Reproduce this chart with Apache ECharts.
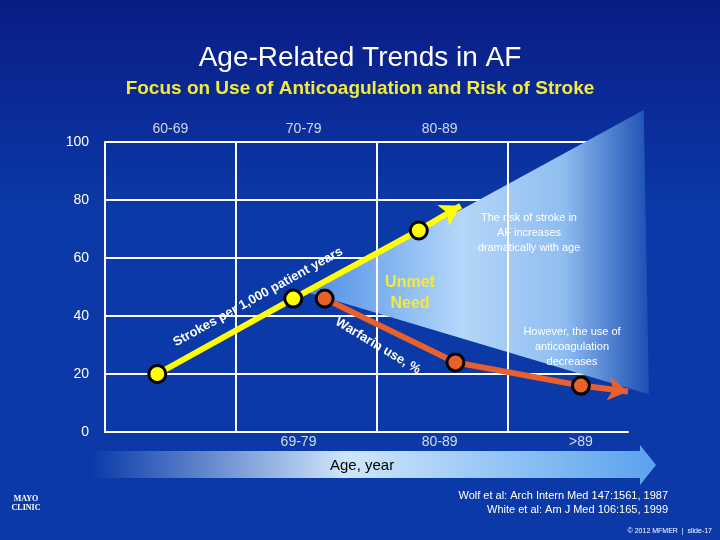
<!DOCTYPE html>
<html><head><meta charset="utf-8">
<script src="https://cdn.jsdelivr.net/npm/echarts@6/dist/echarts.min.js"></script>
<style>html,body{margin:0;padding:0;background:#0b2f9a}#c{width:720px;height:540px}</style>
</head><body><div id="c"></div>
<script>
// x is a 0..100 position along the age band, y is the chart value
const strokeX = [10, 36, 60];
const strokeY = [20, 46, 69.5];
const strokeTip = [68, 78];
const warfX = [42, 67, 91];
const warfY = [46, 24, 16];
const warfTip = [100, 14];
const wedge = [[39, 48], [103, 111], [104, 13]];
const vLines = [25, 52, 77];
const topCats = ['60-69', '70-79', '80-89'];
const topCatX = [12.5, 38, 64];
const botCats = ['69-79', '80-89', '>89'];
const botCatX = [37, 64, 91];

const chart = echarts.init(document.getElementById('c'));
const F = 'Liberation Sans, Arial, sans-serif';

function pts(xs, ys) { return xs.map((x, i) => [x, ys[i]]); }

let option = {
  backgroundColor: new echarts.graphic.LinearGradient(0, 0, 0, 1, [
    {offset: 0, color: '#0a1c86'}, {offset: 0.4, color: '#0b3aa8'}, {offset: 1, color: '#0b3aa8'}]),
  grid: {left: 105, right: 92, top: 142, bottom: 108},
  xAxis: {type: 'value', min: 0, max: 100, show: true,
    axisLine: {show: true, onZero: false, lineStyle: {color: '#fff', width: 2}},
    axisTick: {show: false}, axisLabel: {show: false}, splitLine: {show: false}},
  yAxis: {type: 'value', min: 0, max: 100, interval: 20,
    axisLine: {show: true, lineStyle: {color: '#fff', width: 2}},
    axisTick: {show: false},
    axisLabel: {color: '#fff', fontSize: 14, fontFamily: F, margin: 16},
    splitLine: {lineStyle: {color: '#fff', width: 2}}},
  series: [
    {type: 'line', data: [], z: 1,
      markLine: {silent: true, symbol: 'none', label: {show: false},
        lineStyle: {color: '#fff', width: 2, type: 'solid'},
        data: vLines.map(v => ({xAxis: v}))}},
    {type: 'custom', z: 2, clip: false, data: [0],
      renderItem: (params, api) => ({
        type: 'polygon',
        shape: {points: wedge.map(p => api.coord(p))},
        style: {fill: new echarts.graphic.LinearGradient(0, 0, 1, 0, [
          {offset: 0, color: '#4f8ee6'}, {offset: 0.45, color: '#b4d7fa'},
          {offset: 0.75, color: '#8fbdf0'}, {offset: 1, color: '#1c4fb4'}])}
      })},
    {type: 'line', z: 5, data: [pts(strokeX, strokeY)[2], {value: strokeTip, symbol: 'arrow', symbolSize: [18, 20], symbolRotate: -61}],
      symbol: 'none', lineStyle: {color: '#ffff00', width: 6}, itemStyle: {color: '#ffff00'}},
    {type: 'line', z: 5, data: [pts(warfX, warfY)[2], {value: warfTip, symbol: 'arrow', symbolSize: [18, 20], symbolRotate: -98}],
      symbol: 'none', lineStyle: {color: '#e8602c', width: 6}, itemStyle: {color: '#e8602c'}},
    {type: 'line', z: 6, data: pts(strokeX, strokeY), symbol: 'circle', symbolSize: 17,
      lineStyle: {color: '#ffff00', width: 6},
      itemStyle: {color: '#ffff00', borderColor: '#000', borderWidth: 3}},
    {type: 'line', z: 6, data: pts(warfX, warfY), symbol: 'circle', symbolSize: 17,
      lineStyle: {color: '#e8602c', width: 6},
      itemStyle: {color: '#e8602c', borderColor: '#000', borderWidth: 3}},
    {type: 'scatter', z: 7, symbolSize: 0, data: topCatX.map((x, i) => ({value: [x, 100], name: topCats[i]})),
      label: {show: true, formatter: p => p.name, position: 'top', distance: 6, color: '#fff', fontSize: 14, fontFamily: F}},
    {type: 'scatter', z: 7, symbolSize: 0, data: botCatX.map((x, i) => ({value: [x, 0], name: botCats[i]})),
      label: {show: true, formatter: p => p.name, position: 'bottom', distance: 3, color: '#fff', fontSize: 14, fontFamily: F}}
  ],
  graphic: [
    {type: 'text', left: 'center', top: 44, style: {text: 'Age-Related Trends in AF', fill: '#fff', font: '28px ' + F}},
    {type: 'text', left: 'center', top: 79, style: {text: 'Focus on Use of Anticoagulation and Risk of Stroke', fill: '#f2ea3c', font: 'bold 19px ' + F}},
    {type: 'polygon', z: 3, shape: {points: [[92, 451], [640, 451], [640, 445], [656, 465], [640, 485], [640, 478], [92, 478]]},
      style: {fill: new echarts.graphic.LinearGradient(0, 0, 1, 0, [
        {offset: 0, color: '#0b3aa8'}, {offset: 0.45, color: '#cfe6fb'}, {offset: 1, color: '#5aa2ee'}])}},
    {type: 'text', z: 4, x: 330, y: 458, style: {text: 'Age, year', fill: '#000', font: '15px ' + F}},
    {type: 'text', z: 8, x: 258, y: 297, rotation: 29 * Math.PI / 180,
      style: {text: 'Strokes per 1,000 patient years', fill: '#fff', font: 'bold 13px ' + F, align: 'center', verticalAlign: 'middle'}},
    {type: 'text', z: 8, x: 378, y: 346, rotation: -31 * Math.PI / 180,
      style: {text: 'Warfarin use, %', fill: '#fff', font: 'bold 13px ' + F, align: 'center', verticalAlign: 'middle'}},
    {type: 'text', z: 8, x: 410, y: 272, style: {text: 'Unmet\nNeed', fill: '#f2ea3c', font: 'bold 16px ' + F, align: 'center', lineHeight: 21}},
    {type: 'text', z: 8, x: 529, y: 210, style: {text: 'The risk of stroke in\nAF increases\ndramatically with age', fill: '#fff', font: '11px ' + F, align: 'center', lineHeight: 15}},
    {type: 'text', z: 8, x: 572, y: 324, style: {text: 'However, the use of\nanticoagulation\ndecreases', fill: '#fff', font: '11px ' + F, align: 'center', lineHeight: 15}},
    {type: 'text', x: 668, y: 489, style: {text: 'Wolf et al: Arch Intern Med 147:1561, 1987\nWhite et al: Am J Med 106:165, 1999', fill: '#fff', font: '11px ' + F, align: 'right', lineHeight: 14}},
    {type: 'text', x: 712, y: 528, style: {text: '© 2012 MFMER  |  slide-17', fill: '#fff', font: '7px ' + F, align: 'right'}},
    {type: 'text', x: 26, y: 494, style: {text: 'MAYO\nCLINIC', fill: '#fff', font: 'bold 8px serif', align: 'center', lineHeight: 9}}
  ]
};
chart.setOption(option);
</script></body></html>
